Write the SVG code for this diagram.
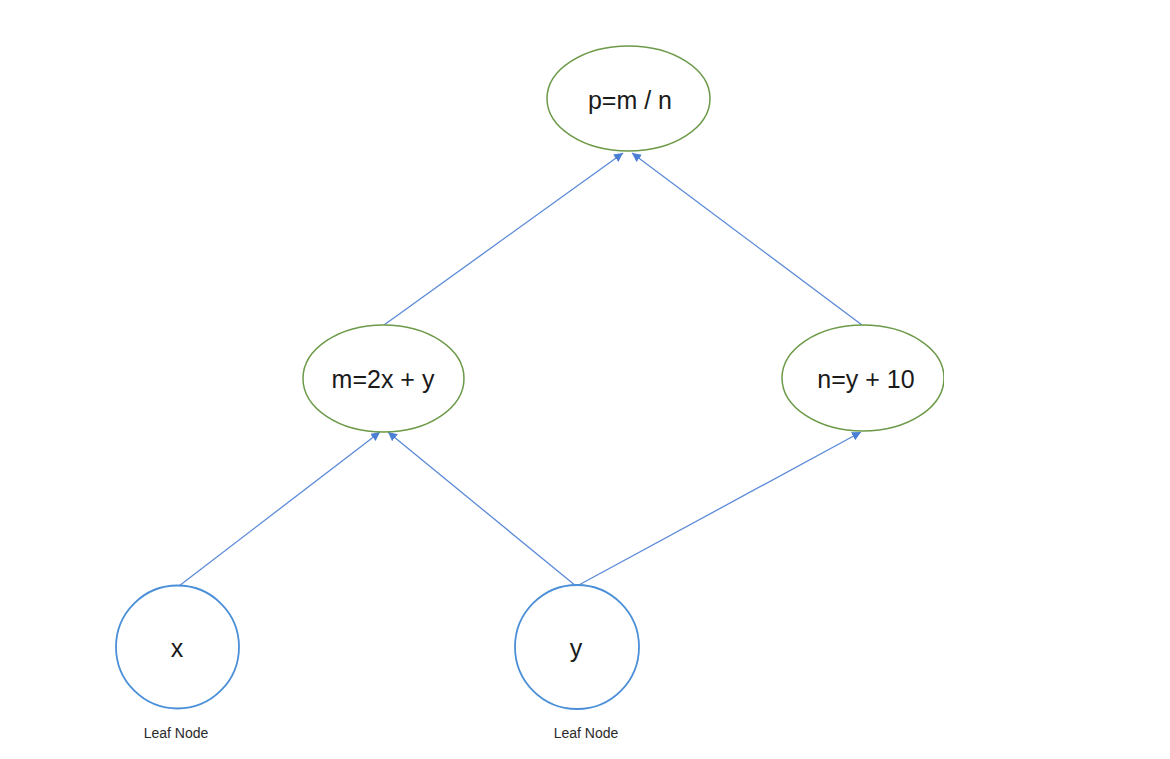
<svg xmlns="http://www.w3.org/2000/svg" width="1170" height="759" viewBox="0 0 1170 759">
<style>
.op{fill:#fff;stroke:#6c9a48;stroke-width:1.5}
.leaf{fill:#fff;stroke:#4a8fd8;stroke-width:1.8}
.lbl{font-family:"Liberation Sans",Arial,sans-serif;font-size:25px;fill:#1a1a1a;text-anchor:middle}
.sub{font-family:"Liberation Sans",Arial,sans-serif;font-size:14px;fill:#2a2a2a;text-anchor:middle}
.edge{stroke:#5b8ad8;stroke-width:1.3;fill:none;marker-end:url(#ah)}
</style>
<defs>
<marker id="ah" viewBox="0 0 10 10" refX="10" refY="5" markerWidth="9" markerHeight="9" markerUnits="userSpaceOnUse" orient="auto">
<path d="M0,0 L10,5 L0,10 z" fill="#4a7fd4"/>
</marker>
<clipPath id="cr"><rect x="0" y="0" width="944" height="759"/></clipPath>
</defs>
<rect width="1170" height="759" fill="#fff"/>
<g id="connectors">
<line class="edge" x1="384" y1="325" x2="623" y2="153"/>
<line class="edge" x1="862" y1="325" x2="632" y2="153"/>
<line class="edge" x1="179" y1="586" x2="380" y2="432"/>
<line class="edge" x1="576" y1="586" x2="388" y2="432"/>
<line class="edge" x1="577" y1="586" x2="861" y2="432"/>
</g>
<g id="node-p">
<ellipse class="op" cx="628.5" cy="98.5" rx="81.5" ry="52.5"/>
<text class="lbl" x="630" y="109">p=m / n</text>
</g>
<g id="node-m">
<ellipse class="op" cx="383.5" cy="378.5" rx="80.5" ry="53.5"/>
<text class="lbl" x="383" y="388">m=2x + y</text>
</g>
<g id="node-n" clip-path="url(#cr)">
<ellipse class="op" cx="863" cy="378" rx="81" ry="53"/>
<text class="lbl" x="866" y="388">n=y + 10</text>
</g>
<g id="node-x">
<circle class="leaf" cx="177.5" cy="647" r="61.5"/>
<text class="lbl" x="177" y="657">x</text>
<text class="sub" x="176" y="738">Leaf Node</text>
</g>
<g id="node-y">
<circle class="leaf" cx="577" cy="647" r="62"/>
<text class="lbl" x="576" y="657">y</text>
<text class="sub" x="586" y="738">Leaf Node</text>
</g>
</svg>
